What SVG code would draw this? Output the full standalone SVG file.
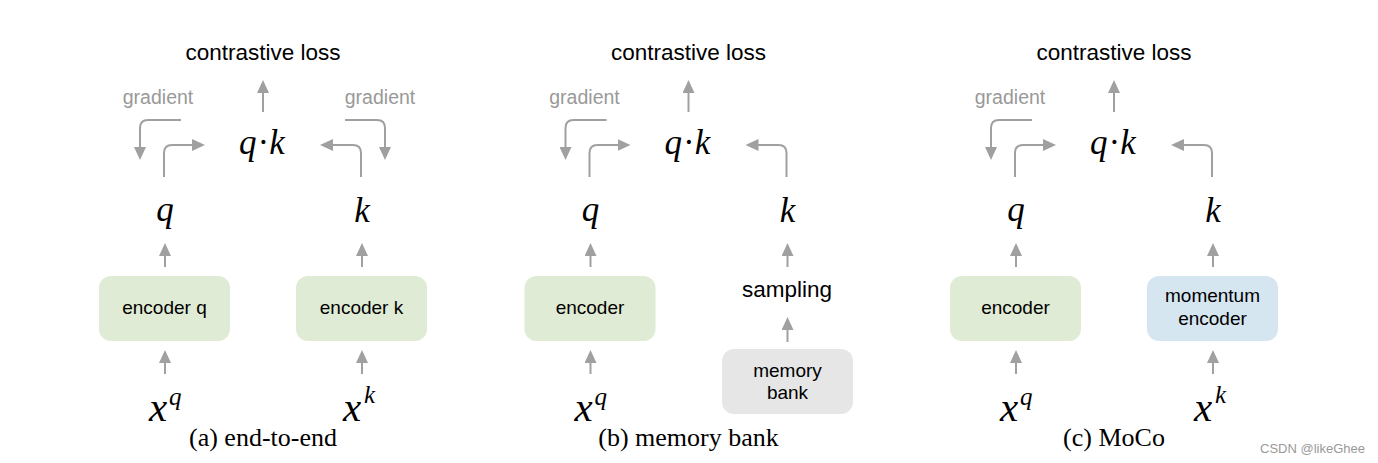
<svg xmlns="http://www.w3.org/2000/svg" width="1378" height="463" viewBox="0 0 1378 463">
<style>
.sans{font-family:"Liberation Sans",Arial,sans-serif;fill:#000}
.title{font-size:22.5px}
.grad{font-family:"Liberation Sans",Arial,sans-serif;font-size:19.5px;fill:#999}
.box{font-family:"Liberation Sans",Arial,sans-serif;font-size:19px;fill:#000}
.math{font-family:"Liberation Serif","Times New Roman",serif;font-style:italic;fill:#000}
.cap{font-family:"Liberation Serif","Times New Roman",serif;font-size:26px;fill:#000}
.arr{fill:none;stroke:#a0a0a0;stroke-width:2}
.green{fill:#e0ebd5}
.gray{fill:#e6e6e6}
.blue{fill:#d6e6f1}
</style>
<defs>
<marker id="ah" markerUnits="userSpaceOnUse" markerWidth="13" markerHeight="12" refX="10" refY="6" orient="auto">
<path d="M0,0 L13,6 L0,12 z" fill="#a0a0a0"/>
</marker>
</defs>
<rect width="1378" height="463" fill="#fff"/>

<g id="connectors">
<!-- panel a -->
<path class="arr" marker-end="url(#ah)" d="M263,112 V83"/>
<path class="arr" marker-end="url(#ah)" d="M164,177 V153 Q164,145 172,145 H202"/>
<path class="arr" marker-end="url(#ah)" d="M361,177 V153 Q361,145 353,145 H323"/>
<path class="arr" marker-end="url(#ah)" d="M181,120 H148 Q140,120 140,128 V157"/>
<path class="arr" marker-end="url(#ah)" d="M345,120 H377 Q385,120 385,128 V157"/>
<path class="arr" marker-end="url(#ah)" d="M165,267 V246"/>
<path class="arr" marker-end="url(#ah)" d="M362,267 V246"/>
<path class="arr" marker-end="url(#ah)" d="M165,374 V353"/>
<path class="arr" marker-end="url(#ah)" d="M362,374 V353"/>
<!-- panel b -->
<path class="arr" marker-end="url(#ah)" d="M688.5,112 V83"/>
<path class="arr" marker-end="url(#ah)" d="M589.5,177 V153 Q589.5,145 597.5,145 H627.5"/>
<path class="arr" marker-end="url(#ah)" d="M786.5,177 V153 Q786.5,145 778.5,145 H748.5"/>
<path class="arr" marker-end="url(#ah)" d="M606.5,120 H573.5 Q565.5,120 565.5,128 V157"/>
<path class="arr" marker-end="url(#ah)" d="M590.5,267 V246"/>
<path class="arr" marker-end="url(#ah)" d="M787.5,267 V246"/>
<path class="arr" marker-end="url(#ah)" d="M590.5,374 V353"/>
<path class="arr" marker-end="url(#ah)" d="M787.5,342 V320"/>
<!-- panel c -->
<path class="arr" marker-end="url(#ah)" d="M1114,112 V83"/>
<path class="arr" marker-end="url(#ah)" d="M1015,177 V153 Q1015,145 1023,145 H1053"/>
<path class="arr" marker-end="url(#ah)" d="M1212,177 V153 Q1212,145 1204,145 H1174"/>
<path class="arr" marker-end="url(#ah)" d="M1032,120 H999 Q991,120 991,128 V157"/>
<path class="arr" marker-end="url(#ah)" d="M1016,267 V246"/>
<path class="arr" marker-end="url(#ah)" d="M1213,267 V246"/>
<path class="arr" marker-end="url(#ah)" d="M1016,374 V353"/>
<path class="arr" marker-end="url(#ah)" d="M1213,374 V353"/>
</g>

<!-- Panel a -->
<g id="a-loss"><text class="sans title" x="263" y="60" text-anchor="middle">contrastive loss</text></g>
<g id="a-grad-left"><text class="grad" x="158" y="104" text-anchor="middle">gradient</text></g>
<g id="a-grad-right"><text class="grad" x="380" y="104" text-anchor="middle">gradient</text></g>
<g id="a-qk"><text class="math" x="263" y="154" font-size="35" letter-spacing="2" text-anchor="middle">q·k</text></g>
<g id="a-q"><text class="math" x="165" y="221" font-size="35" text-anchor="middle">q</text></g>
<g id="a-k"><text class="math" x="362" y="222" font-size="35" text-anchor="middle">k</text></g>
<g id="a-encq"><rect class="green" x="99" y="276" width="131" height="65" rx="12"/><text class="box" x="164.5" y="314" text-anchor="middle">encoder q</text></g>
<g id="a-enck"><rect class="green" x="296" y="276" width="131" height="65" rx="12"/><text class="box" x="361.5" y="314" text-anchor="middle">encoder k</text></g>
<g id="a-xq"><text class="math" x="149" y="421" font-size="41">x</text><text class="math" x="169" y="405" font-size="25">q</text></g>
<g id="a-xk"><text class="math" x="343" y="421" font-size="41">x</text><text class="math" x="364" y="403" font-size="25">k</text></g>
<g id="a-cap"><text class="cap" x="263" y="446" text-anchor="middle">(a) end-to-end</text></g>

<!-- Panel b -->
<g id="b-loss"><text class="sans title" x="688.5" y="60" text-anchor="middle">contrastive loss</text></g>
<g id="b-grad"><text class="grad" x="584.5" y="104" text-anchor="middle">gradient</text></g>
<g id="b-qk"><text class="math" x="688.5" y="154" font-size="35" letter-spacing="2" text-anchor="middle">q·k</text></g>
<g id="b-q"><text class="math" x="590.5" y="221" font-size="35" text-anchor="middle">q</text></g>
<g id="b-k"><text class="math" x="787.5" y="222" font-size="35" text-anchor="middle">k</text></g>
<g id="b-enc"><rect class="green" x="524.5" y="276" width="131" height="65" rx="12"/><text class="box" x="590" y="314" text-anchor="middle">encoder</text></g>
<g id="b-sampling"><text class="sans title" x="787" y="297" text-anchor="middle">sampling</text></g>
<g id="b-bank"><rect class="gray" x="722" y="349" width="131" height="65" rx="12"/><text class="box" x="787.5" y="377" text-anchor="middle">memory</text><text class="box" x="787.5" y="399" text-anchor="middle">bank</text></g>
<g id="b-xq"><text class="math" x="574.5" y="421" font-size="41">x</text><text class="math" x="594.5" y="405" font-size="25">q</text></g>
<g id="b-cap"><text class="cap" x="688.5" y="446" text-anchor="middle">(b) memory bank</text></g>

<!-- Panel c -->
<g id="c-loss"><text class="sans title" x="1114" y="60" text-anchor="middle">contrastive loss</text></g>
<g id="c-grad"><text class="grad" x="1010" y="104" text-anchor="middle">gradient</text></g>
<g id="c-qk"><text class="math" x="1114" y="154" font-size="35" letter-spacing="2" text-anchor="middle">q·k</text></g>
<g id="c-q"><text class="math" x="1016" y="221" font-size="35" text-anchor="middle">q</text></g>
<g id="c-k"><text class="math" x="1213" y="222" font-size="35" text-anchor="middle">k</text></g>
<g id="c-enc"><rect class="green" x="950" y="276" width="131" height="65" rx="12"/><text class="box" x="1015.5" y="314" text-anchor="middle">encoder</text></g>
<g id="c-menc"><rect class="blue" x="1147" y="276" width="131" height="65" rx="12"/><text class="box" x="1212.5" y="302" text-anchor="middle">momentum</text><text class="box" x="1212.5" y="325" text-anchor="middle">encoder</text></g>
<g id="c-xq"><text class="math" x="1000" y="421" font-size="41">x</text><text class="math" x="1020" y="405" font-size="25">q</text></g>
<g id="c-xk"><text class="math" x="1194" y="421" font-size="41">x</text><text class="math" x="1215" y="403" font-size="25">k</text></g>
<g id="c-cap"><text class="cap" x="1114" y="446" text-anchor="middle">(c) MoCo</text></g>

<g id="watermark"><text x="1260" y="453" font-family="'Liberation Sans',Arial,sans-serif" font-size="13" fill="#999">CSDN @likeGhee</text></g>
</svg>
